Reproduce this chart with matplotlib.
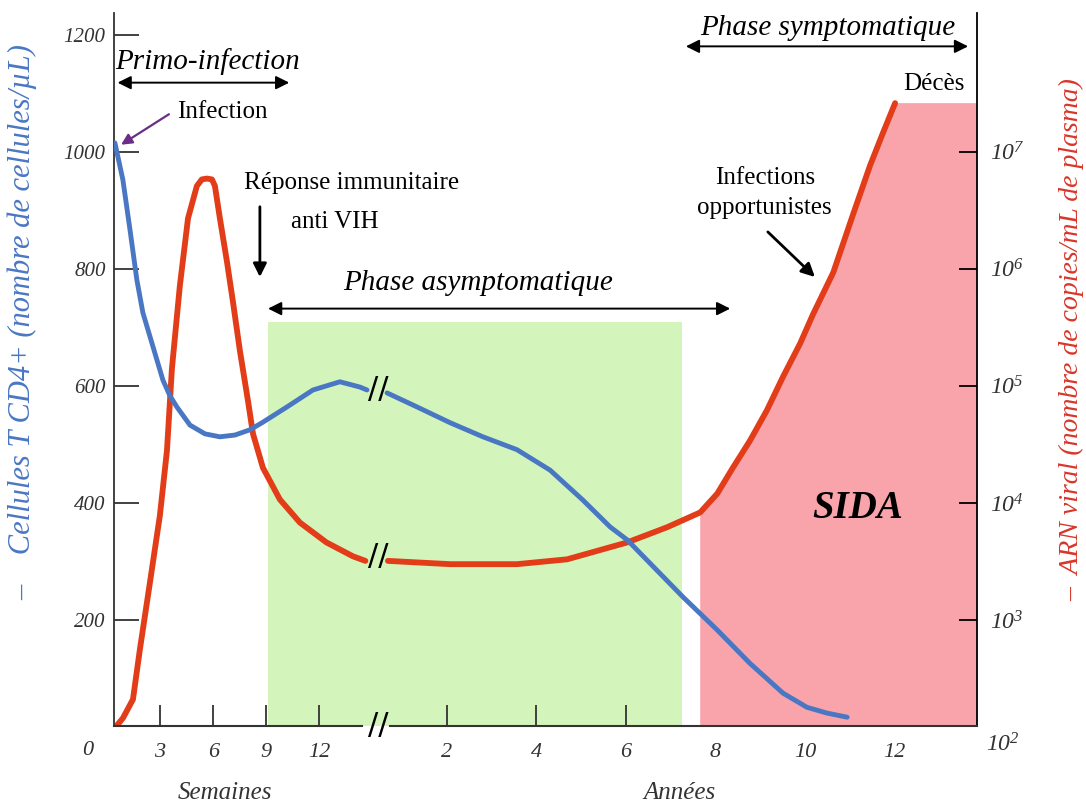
import numpy as np
import matplotlib
matplotlib.use('Agg')
import matplotlib.pyplot as plt

plt.rcParams['font.family'] = 'serif'
plt.rcParams['font.serif'] = ['Liberation Serif', 'DejaVu Serif']
plt.rcParams['font.style'] = 'italic'
plt.rcParams['mathtext.fontset'] = 'custom'
plt.rcParams['mathtext.rm'] = 'Liberation Serif:italic'
plt.rcParams['mathtext.it'] = 'Liberation Serif:italic'

# --- donnees ---
# CD4 (cellules/uL) : partie en semaines puis partie en annees
cd4_sem = [0.45, 0.90, 1.30, 1.69, 2.03, 2.60, 3.16, 3.56, 3.95, 4.69, 5.54, 6.38, 7.23, 8.08, 8.76, 10.17, 11.64, 13.16, 14.29, 14.69]
cd4_sem_val = [1015, 952, 867, 781, 725, 667, 610, 583, 564, 533, 518, 513, 516, 525, 537, 564, 593, 607, 598, 593]
cd4_ans = [0.67, 1.34, 2.08, 2.81, 3.57, 4.31, 5.04, 5.65, 6.03, 6.54, 7.28, 8.04, 8.77, 9.51, 10.04, 10.49, 10.94]
cd4_ans_val = [588, 564, 537, 513, 491, 456, 405, 359, 337, 297, 239, 183, 126, 75, 51, 41, 34]

# ARN viral (copies/mL)
arn_sem = [0.45, 0.90, 1.47, 1.86, 2.43, 2.99, 3.39, 3.67, 4.12, 4.58, 5.08, 5.36, 5.65, 5.93, 6.10, 6.38, 6.78,
           7.12, 7.51, 7.97, 8.25, 8.81, 9.77, 10.9, 12.4, 13.9, 14.6]
arn_sem_val = [1.2e2, 1.45e2, 2.1e2, 5.6e2, 2.1e3, 7.8e3, 2.8e4, 1.4e5, 7.2e5, 2.7e6, 5.1e6, 5.8e6, 5.9e6, 5.8e6,
               5.1e6, 2.7e6, 1.15e6, 5.2e5, 2.0e5, 7.4e4, 3.9e4, 2.0e4, 1.07e4, 6.8e3, 4.6e3, 3.5e3, 3.2e3]
arn_ans = [0.69, 2.08, 3.57, 4.69, 6.03, 6.92, 7.66, 8.04, 8.39, 8.77, 9.15, 9.51, 9.89, 10.18, 10.63, 11.07, 11.45, 11.74, 12.01]
arn_ans_val = [3.2e3, 3.0e3, 3.0e3, 3.3e3, 4.6e3, 6.2e3, 8.3e3, 1.2e4, 2.0e4, 3.4e4, 6.2e4, 1.2e5, 2.3e5, 4.1e5,
               9.3e5, 2.9e6, 7.6e6, 1.45e7, 2.6e7]

sem_ticks = [3, 6, 9, 12]
ans_ticks = [2, 4, 6]
ans_ticks_sida = [8, 10, 12]
log_ticks = [1e3, 1e4, 1e5, 1e6, 1e7]

phase_asympto = (9.1, 7.25)   # debut en semaines, fin en annees
debut_sida = 7.66             # annees
fin_x = 13.84                 # annees

BLEU = '#4a77c3'
ROUGE = '#e23c18'
VERT = '#d3f5bb'
ROSE = '#f9a4ab'
GRIS = '#333333'

# echelle coupee : semaines puis annees
BREAK_W = 14.85
UNITS_PER_YEAR = 2.531


def fwd(w):
    w = np.asarray(w, float)
    return np.where(w <= BREAK_W, w, BREAK_W + (w - BREAK_W) / 52 * UNITS_PER_YEAR)


def inv(u):
    u = np.asarray(u, float)
    return np.where(u <= BREAK_W, u, BREAK_W + (u - BREAK_W) * 52 / UNITS_PER_YEAR)


def yr(a):
    return np.asarray(a, float) * 52


fig = plt.figure(figsize=(10.86, 8.07), dpi=100)
ax = fig.add_axes([0.105, 0.1004, 0.7947, 0.8835])
ax2 = ax.twinx()
ax.set_zorder(ax2.get_zorder() + 1)
ax.patch.set_visible(False)

ax.set_xscale('function', functions=(fwd, inv))
ax.set_xlim(0.4, yr(fin_x))
ax.set_ylim(19, 1237)
ax2.set_yscale('log')
ax2.set_ylim(10 ** (2 + 19 / 200), 10 ** (2 + 1237 / 200))

# fonds
ax2.axvspan(phase_asympto[0], yr(phase_asympto[1]), ymax=0.567, color=VERT, lw=0, zorder=0)
sida_x = yr(arn_ans[6:] + [fin_x])
sida_top = arn_ans_val[6:] + [arn_ans_val[-1]]
ax2.fill_between(sida_x, 1, sida_top, color=ROSE, lw=0, zorder=0)

# courbes
kw = dict(solid_capstyle='round', solid_joinstyle='round', zorder=3)
ax2.plot(arn_sem, arn_sem_val, color=ROUGE, lw=4.2, **kw)
ax2.plot(yr(arn_ans), arn_ans_val, color=ROUGE, lw=4.2, **kw)
ax.plot(cd4_sem, cd4_sem_val, color=BLEU, lw=3.5, **kw)
ax.plot(yr(cd4_ans), cd4_ans_val, color=BLEU, lw=3.5, **kw)

# axes
for s in ['top', 'right', 'bottom']:
    ax.spines[s].set_visible(False)
for s in ['top', 'left', 'bottom']:
    ax2.spines[s].set_visible(False)
ax.spines['left'].set_color(GRIS)
ax.spines['left'].set_linewidth(1.3)
ax2.spines['right'].set_color('black')
ax2.spines['right'].set_linewidth(1.3)

xt = ax.get_xaxis_transform()
ax.plot([0.4, 14.4], [0, 0], transform=xt, color=GRIS, lw=1.5, clip_on=False)
ax.plot([38.3, yr(fin_x)], [0, 0], transform=xt, color=GRIS, lw=1.5, clip_on=False)

ax.set_xticks(sem_ticks + list(yr(ans_ticks)))
ax.set_xticklabels([str(t) for t in sem_ticks + ans_ticks])
ax.set_xticks(yr(ans_ticks_sida), minor=True)
ax.set_xticklabels([str(t) for t in ans_ticks_sida], minor=True)
ax.tick_params(axis='x', which='major', direction='in', length=15, width=1.3, color=GRIS,
               labelsize=16, labelcolor=GRIS, pad=12)
ax.tick_params(axis='x', which='minor', length=0, labelsize=16, labelcolor=GRIS, pad=12)

ax.set_yticks([200, 400, 600, 800, 1000, 1200])
ax.tick_params(axis='y', direction='in', length=18, width=1.3, color=GRIS, labelsize=15,
               labelcolor=GRIS, pad=6)

ax2.set_yticks(log_ticks)
ax2.set_yticklabels(['$10^{%d}$' % int(np.log10(t)) for t in log_ticks])
ax2.yaxis.set_minor_locator(matplotlib.ticker.NullLocator())
ax2.tick_params(axis='y', direction='in', length=13, width=1.3, color='black', labelsize=17,
                labelcolor=GRIS, pad=9)
ax2.tick_params(axis='x', bottom=False, labelbottom=False)

ax.text(-0.030, -0.034, '0', transform=ax.transAxes, ha='center', va='center', fontsize=16, color=GRIS)
ax.text(1.030, -0.027, '$10^{2}$', transform=ax.transAxes, ha='center', va='center', fontsize=17, color=GRIS)

# coupures //
for y in [593, 309]:
    ax.text(24.4, y, '//', ha='center', va='center', fontsize=22, style='normal', color='black',
            family='DejaVu Sans', zorder=5)
ax.text(24.4, 0, '//', transform=xt, ha='center', va='center', fontsize=22, style='normal',
        color='black', family='DejaVu Sans', clip_on=False)

# legendes d'axes
fig.text(225 / 1086, 1 - 793 / 807, 'Semaines', ha='center', va='center', fontsize=18, color=GRIS)
fig.text(680 / 1086, 1 - 793 / 807, 'Années', ha='center', va='center', fontsize=18, color=GRIS)
fig.text(22 / 1086, 1 - 322 / 807, '–    Cellules T CD4+ (nombre de cellules/µL)', rotation=90,
         ha='center', va='center', fontsize=22, color=BLEU)
fig.text(1072 / 1086, 1 - 340 / 807, '–  ARN viral (nombre de copies/mL de plasma)', rotation=90,
         ha='center', va='center', fontsize=20, color='#d8362a')

# annotations
arr2 = dict(arrowstyle='<|-|>', color='black', lw=1.4, mutation_scale=20, shrinkA=0, shrinkB=0)
ax.annotate('', xy=(10.3, 1118), xytext=(0.6, 1118), arrowprops=arr2)
ax.text(5.7, 1154, 'Primo-infection', ha='center', va='center', fontsize=21, color='black')

ax.text(6.5, 1068, 'Infection', ha='center', va='center', fontsize=18, style='normal', color='black')
ax.annotate('', xy=(0.8, 1012), xytext=(3.5, 1064),
            arrowprops=dict(arrowstyle='-|>', color='#6a2d88', lw=1.6, mutation_scale=16, shrinkA=0, shrinkB=0))

ax.text(13.84, 947, 'Réponse immunitaire', ha='center', va='center', fontsize=18, style='normal')
ax.text(12.88, 880, 'anti VIH', ha='center', va='center', fontsize=18, style='normal')
ax.annotate('', xy=(8.64, 786), xytext=(8.64, 906),
            arrowprops=dict(arrowstyle='-|>', color='black', lw=2, mutation_scale=20, shrinkA=0, shrinkB=0))

ax.annotate('', xy=(yr(8.33), 732), xytext=(9.1, 732), arrowprops=arr2)
ax.text(yr(2.7), 776, 'Phase asymptomatique', ha='center', va='center', fontsize=21)

ax.annotate('', xy=(yr(13.64), 1180), xytext=(yr(7.34), 1180), arrowprops=arr2)
ax.text(yr(10.51), 1212, 'Phase symptomatique', ha='center', va='center', fontsize=21)
ax.text(yr(12.88), 1116, 'Décès', ha='center', va='center', fontsize=18, style='normal')

ax.text(yr(9.1), 929, 'Infections\nopportunistes', ha='center', va='center', fontsize=18,
        style='normal', linespacing=1.45)
ax.annotate('', xy=(yr(10.22), 786), xytext=(yr(9.17), 863),
            arrowprops=dict(arrowstyle='-|>', color='black', lw=2, mutation_scale=20, shrinkA=0, shrinkB=0))

ax.text(yr(11.18), 391, 'SIDA', ha='center', va='center', fontsize=28, weight='bold', color='black')

fig.savefig('out.png', dpi=100)
